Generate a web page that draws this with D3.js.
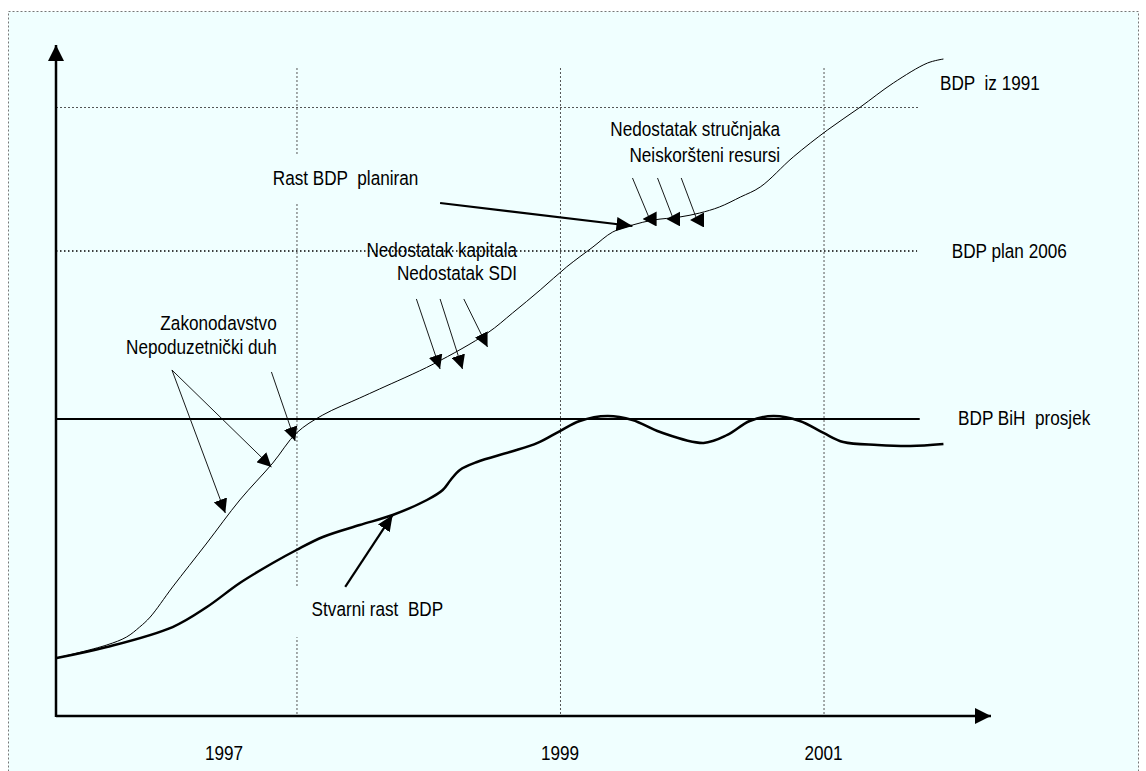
<!DOCTYPE html>
<html><head><meta charset="utf-8">
<script src="https://cdn.jsdelivr.net/npm/d3@7"></script>
<style>
html,body{margin:0;padding:0;background:#fff;}
svg{display:block;}
text{font-family:"Liberation Sans",Arial,sans-serif;font-size:19.5px;fill:#000;white-space:pre;}
</style></head><body>
<svg id="c" width="1146" height="771"></svg>
<script>
// ---------- data (years on x, index value on y) ----------
const plannedYears  = [1995.18,1995.56,1995.71,1995.81,1995.89,1996.06,1996.32,1996.57,1996.82,1997.00,1997.20,1997.48,1997.63,1998.04,1998.45,1998.64,1998.85,1999.05,1999.25,1999.40,1999.55,1999.71,1999.91,2000.06,2000.21,2000.37,2000.52,2000.77,2001.03,2001.28,2001.53,2001.79,2001.91];
const plannedValues = [8.64,10.58,11.77,13.26,14.75,19.23,25.78,32.19,37.70,42.18,44.86,47.39,48.73,52.46,57.08,60.06,63.49,66.92,69.90,72.13,73.17,73.92,74.37,74.96,75.86,77.35,78.84,83.31,87.33,90.76,94.34,97.32,97.91];

const actualYears  = [1995.18,1995.56,1996.06,1996.32,1996.57,1996.82,1997.00,1997.20,1997.48,1997.73,1997.99,1998.11,1998.17,1998.24,1998.37,1998.62,1998.83,1999.00,1999.15,1999.36,1999.55,1999.76,2000.09,2000.27,2000.44,2000.62,2000.82,2001.00,2001.15,2001.41,2001.66,2001.91];
const actualValues = [8.64,10.28,13.26,16.24,19.82,22.80,24.74,26.68,28.46,29.96,32.19,33.68,35.17,36.66,37.85,39.34,40.69,42.47,43.96,44.71,44.11,42.32,40.69,41.88,43.96,44.71,43.96,42.18,40.83,40.39,40.24,40.54];

const levelNames  = ["BDP  iz 1991", "BDP plan 2006", "BDP BiH  prosjek"];
const levelValues = [90.76, 69.30, 44.26];

const gridYears      = [1997, 1999, 2001];
const tickLabels     = ["1997", "1999", "2001"];
const tickLabelYears = [1996.45, 1999, 2001];

const factorLabels = [["Zakonodavstvo", "Nepoduzetnički duh"], ["Nedostatak kapitala", "Nedostatak SDI"], ["Nedostatak stručnjaka", "Neiskoršteni resursi"]];
const curveLabels  = ["Rast BDP  planiran", "Stvarni rast  BDP"];

const factorArrowFrom = [[1996.055,51.56],[1996.055,51.56],[1996.81,51.27],[1997.91,62.15],[1998.09,62.15],[1998.27,62.15]];
const factorArrowTo   = [[1996.46,30.25],[1996.81,37.11],[1996.99,40.98],[1998.09,51.71],[1998.26,51.71],[1998.45,54.99]];
const lateArrowFrom   = [[1999.55,80.18],[1999.74,80.18],[1999.92,80.18]];
const lateArrowTo     = [[1999.68,74.07],[1999.86,74.07],[2000.04,73.92]];
const pointerFrom     = [[1998.09,76.45],[1997.37,19.23]];
const pointerTo       = [[1999.55,73.03],[1997.73,29.96]];

// ---------- scales ----------
const x = d3.scaleLinear().domain([1995.175, 2002.271]).range([56, 991]);
const y = d3.scaleLinear().domain([0, 100]).range([716, 45]);
const BG = "#F0FFFF";

const svg = d3.select("#c");
const defs = svg.append("defs");
function marker(id, len, wid, path, refX, orient) {
  defs.append("marker").attr("id", id).attr("markerUnits", "userSpaceOnUse")
    .attr("viewBox", `0 0 ${len} ${wid}`).attr("markerWidth", len).attr("markerHeight", wid)
    .attr("refX", refX).attr("refY", wid / 2).attr("orient", orient)
    .append("path").attr("d", path).attr("fill", "#000");
}
marker("head", 14, 14, "M0,0L14,7L0,14Z", 14, "auto");
marker("headBig", 16, 14, "M0,0L16,7L0,14Z", 16, "auto");
marker("headLeft", 14, 15, "M14,0L0,7.5L14,15Z", 7, "0");
marker("axisHead", 16, 16, "M0,0L16,8L0,16Z", 16, "auto");

// frame
svg.append("rect").attr("x", 8.5).attr("y", 11.5).attr("width", 1130).attr("height", 800)
  .attr("fill", BG).attr("stroke", "#777").attr("stroke-dasharray", "2,2");

// vertical gridlines
svg.selectAll("line.grid").data(gridYears).enter().append("line")
  .attr("x1", d => x(d) + 0.5).attr("x2", d => x(d) + 0.5)
  .attr("y1", y(96.57)).attr("y2", y(0))
  .attr("stroke", "#555").attr("stroke-width", 1).attr("stroke-dasharray", "2,2");

// level line 1991 (fine dashed)
svg.append("line").attr("x1", x(1995.175)).attr("x2", x(2001.73))
  .attr("y1", y(levelValues[0]) + 0.5).attr("y2", y(levelValues[0]) + 0.5)
  .attr("stroke", "#555").attr("stroke-dasharray", "2,2");

// text boxes covering gridline
svg.append("rect").attr("x", x(1996.75)).attr("y", y(83.6)).attr("width", 163).attr("height", 48).attr("fill", BG);
svg.append("rect").attr("x", x(1996.93)).attr("y", y(19.2)).attr("width", 170).attr("height", 50).attr("fill", BG);

// plan 2006 dotted
svg.append("line").attr("x1", x(1995.175)).attr("x2", x(2001.71))
  .attr("y1", y(levelValues[1])).attr("y2", y(levelValues[1]))
  .attr("stroke", "#000").attr("stroke-width", 1.5).attr("stroke-dasharray", "1.5,2.5");

// BiH average solid
svg.append("line").attr("x1", x(1995.175)).attr("x2", x(2001.73))
  .attr("y1", y(levelValues[2])).attr("y2", y(levelValues[2]))
  .attr("stroke", "#000").attr("stroke-width", 2);

// axes
svg.append("line").attr("x1", x(1995.175)).attr("x2", x(2002.271)).attr("y1", y(0)).attr("y2", y(0))
  .attr("stroke", "#000").attr("stroke-width", 2.5).attr("marker-end", "url(#axisHead)");
svg.append("line").attr("x1", x(1995.175)).attr("x2", x(1995.175)).attr("y1", y(0) + 1).attr("y2", y(100))
  .attr("stroke", "#000").attr("stroke-width", 2.5).attr("marker-end", "url(#axisHead)");

// curves
const line = d3.line().x(d => x(d[0])).y(d => y(d[1])).curve(d3.curveCatmullRom.alpha(0.5));
svg.append("path").attr("d", line(plannedYears.map((v, i) => [v, plannedValues[i]])))
  .attr("fill", "none").attr("stroke", "#000").attr("stroke-width", 1);
svg.append("path").attr("d", line(actualYears.map((v, i) => [v, actualValues[i]])))
  .attr("fill", "none").attr("stroke", "#000").attr("stroke-width", 2.5);

// arrows
function arrows(from, to, width, mk) {
  from.forEach((f, i) => {
    svg.append("line").attr("x1", x(f[0])).attr("y1", y(f[1]))
      .attr("x2", x(to[i][0])).attr("y2", y(to[i][1]))
      .attr("stroke", "#000").attr("stroke-width", width).attr("marker-end", `url(#${mk})`);
  });
}
arrows(factorArrowFrom, factorArrowTo, 0.9, "head");
arrows(lateArrowFrom, lateArrowTo, 0.9, "headLeft");
arrows(pointerFrom, pointerTo, 2.2, "headBig");

// text
function label(txt, yr, val, anchor) {
  svg.append("text").attr("transform", `translate(${x(yr)},${y(val)}) scale(0.88,1)`)
    .attr("text-anchor", anchor).attr("dy", "0.35em").text(txt);
}
label(curveLabels[0], 1996.82, 80.18, "start");
label(curveLabels[1], 1997.115, 15.95, "start");
label(factorLabels[0][0], 1996.85, 58.57, "end");
label(factorLabels[0][1], 1996.85, 54.99, "end");
label(factorLabels[1][0], 1998.674, 69.45, "end");
label(factorLabels[1][1], 1998.674, 66.02, "end");
label(factorLabels[2][0], 2000.67, 87.48, "end");
label(factorLabels[2][1], 2000.67, 83.61, "end");
label(levelNames[0], 2001.884, 94.34, "start");
label(levelNames[1], 2001.973, 69.30, "start");
label(levelNames[2], 2002.021, 44.41, "start");
tickLabels.forEach((t, i) => label(t, tickLabelYears[i], -5.51, "middle"));
</script>
</body></html>
